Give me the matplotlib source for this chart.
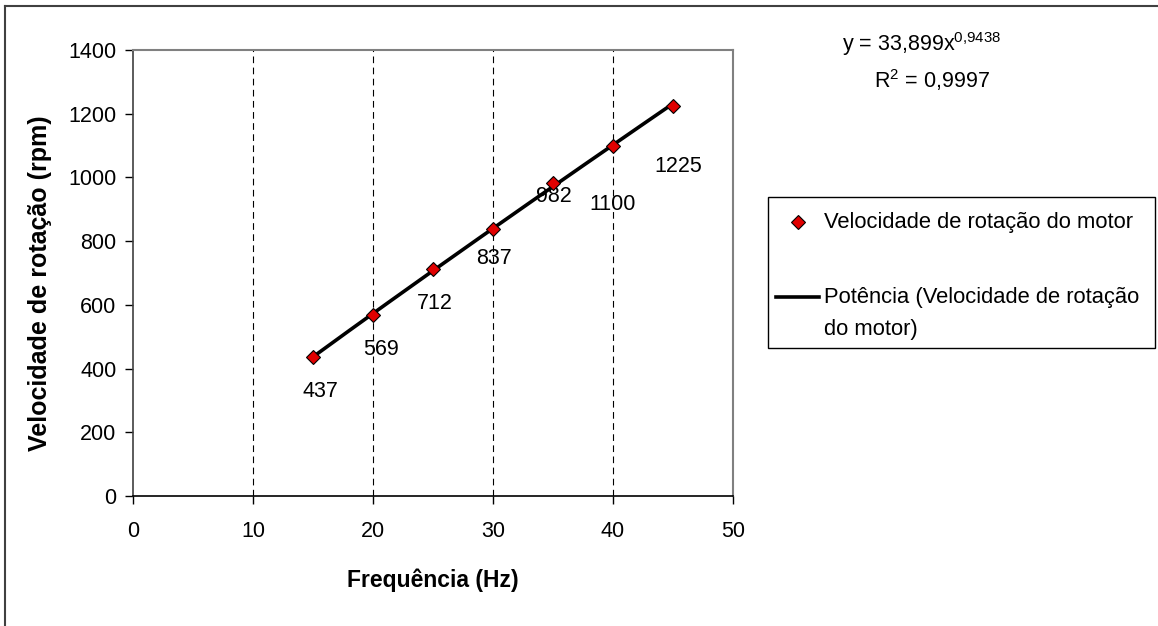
import numpy as np
import matplotlib
matplotlib.use('Agg')
import matplotlib.pyplot as plt
from matplotlib.lines import Line2D
from matplotlib.patches import Rectangle

plt.rcParams['font.family'] = ['Liberation Sans', 'DejaVu Sans']

freq = [15, 20, 25, 30, 35, 40, 45]
rpm = [437, 569, 712, 837, 982, 1100, 1225]
labels = ['437', '569', '712', '837', '982', '1100', '1225']

series_name = 'Velocidade de rotação do motor'
trend_name = ['Potência (Velocidade de rotação', 'do motor)']

# label offsets in pixels (right, down) relative to each marker
label_offsets = [(7, 35), (8, 35), (2, 34), (1, 29), (1, 13), (0, 59), (5, 61)]

W, H = 1158, 626
fig = plt.figure(figsize=(W / 100, H / 100), dpi=100)
ax = fig.add_axes([133 / W, 1 - 496 / H, 600 / W, 446 / H])

# Power-law trendline fitted on the data (log-log linear fit).
b, log_a = np.polyfit(np.log(freq), np.log(rpm), 1)
xf = np.linspace(min(freq), max(freq), 200)
yf = np.exp(log_a) * xf ** b

ax.plot(xf, yf, color='black', lw=2.6, zorder=3)
ax.plot(freq, rpm, linestyle='none', marker='D', ms=7, mfc='#e00000',
        mec='black', mew=0.8, zorder=4)

for x, y, lab, (dx, dy) in zip(freq, rpm, labels, label_offsets):
    ax.annotate(lab, (x, y), xytext=(dx * 0.72, -dy * 0.72),
                textcoords='offset points', ha='center', va='center',
                fontsize=15.5)

for gx in [10, 20, 30, 40]:
    ax.axvline(gx, color='black', lw=0.8, ls=(0, (6, 4)), zorder=1)

ax.set_xlim(0, 50)
ax.set_ylim(0, 1400)
ax.set_xticks(range(0, 51, 10))
ax.set_yticks(range(0, 1401, 200))
ax.tick_params(labelsize=15.5, direction='out', length=6, width=1)
ax.tick_params(axis='x', pad=12)
ax.tick_params(axis='y', pad=6)
ax.spines['top'].set_color('#808080')
ax.spines['right'].set_color('#808080')
ax.spines['top'].set_linewidth(1.5)
ax.spines['right'].set_linewidth(1.5)
ax.spines['left'].set_color('#404040')
ax.spines['bottom'].set_color('black')
ax.spines['left'].set_linewidth(1.2)
ax.spines['bottom'].set_linewidth(1.2)

fig.text(433 / W, 1 - 580 / H, 'Frequência (Hz)', fontsize=16.5,
         fontweight='bold', ha='center', va='center')
fig.text(40 / W, 1 - 283 / H, 'Velocidade de rotação (rpm)', fontsize=18,
         fontweight='bold', ha='center', va='center', rotation=90)

fig.text(922 / W, 1 - 44 / H, 'y = 33,899x$^{\\mathregular{0{,}9438}}$',
         fontsize=15.5, ha='center', va='center')
fig.text(932 / W, 1 - 80 / H, 'R$^{\\mathregular{2}}$ = 0,9997',
         fontsize=15.5, ha='center', va='center')


# legend box drawn in figure pixels
def fx(px):
    return px / W


def fy(py):
    return 1 - py / H


fig.add_artist(Rectangle((fx(768), fy(348)), fx(1155) - fx(768),
                         fy(197) - fy(348), transform=fig.transFigure,
                         fill=False, edgecolor='black', lw=1.0))
fig.add_artist(Line2D([fx(798)], [fy(222)], linestyle='none', marker='D',
                      ms=7, mfc='#e00000', mec='black', mew=0.8))
fig.text(fx(824), fy(222), series_name, fontsize=15.8, va='center')
fig.add_artist(Line2D([fx(776), fx(819)], [fy(297), fy(297)],
                      color='black', lw=2.6))
fig.text(fx(824), fy(297), trend_name[0], fontsize=15.8, va='center')
fig.text(fx(824), fy(330), trend_name[1], fontsize=15.8, va='center')

# outer chart border (only left and top visible)
fig.add_artist(Line2D([fx(5), fx(5)], [0, fy(6)], color='#404040', lw=1.5))
fig.add_artist(Line2D([fx(5), 1], [fy(6), fy(6)], color='#404040', lw=1.5))

fig.savefig('out.png', dpi=100)
